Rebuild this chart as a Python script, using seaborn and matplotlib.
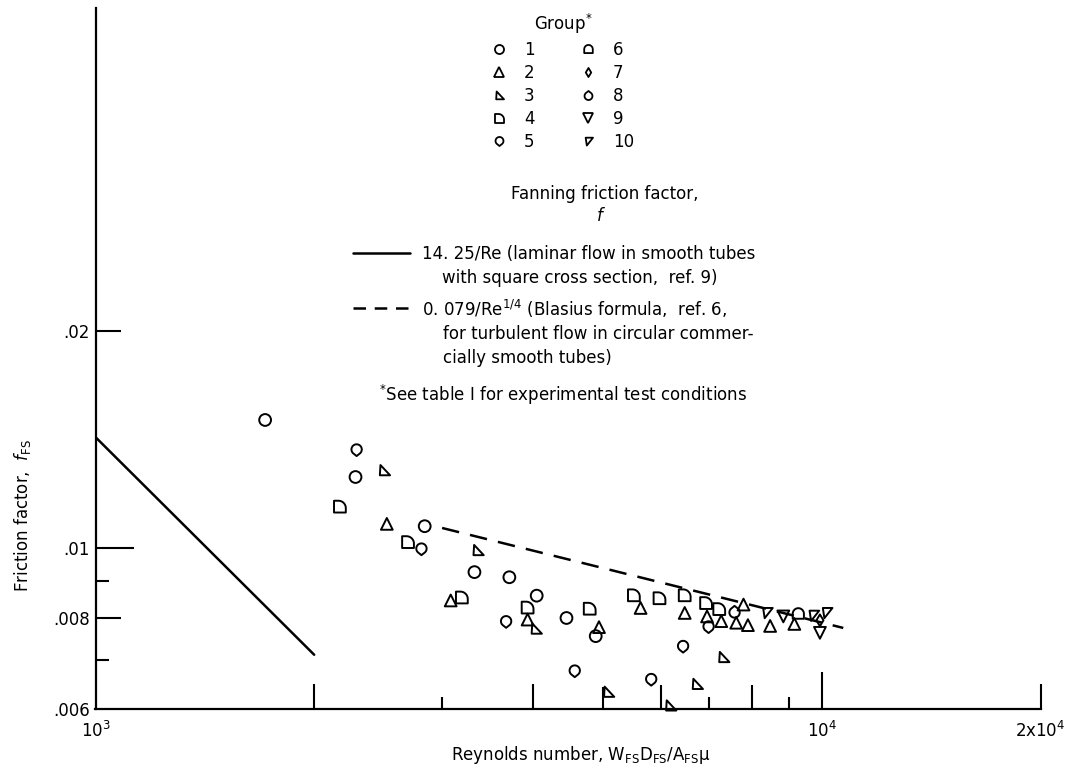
import numpy as np
import pandas as pd
import matplotlib
matplotlib.use("Agg")
import matplotlib.pyplot as plt
import seaborn as sns
from matplotlib.path import Path
from matplotlib.lines import Line2D
from matplotlib.ticker import NullLocator
from matplotlib import font_manager as fm

# ---------------- data ----------------
groups = ["1", "2", "3", "4", "5", "6", "7", "8", "9", "10"]

g1_re = [1712, 2280, 2839, 3324, 3713, 4049, 4450, 4882]
g1_f = [0.01505, 0.01255, 0.01073, 0.00927, 0.00912, 0.00860, 0.00801, 0.00756]
g2_re = [2518, 3083, 3934, 4933, 5628, 6473, 6948, 7268, 7621, 7799, 7909, 8486, 9163]
g2_f = [0.01081, 0.00847, 0.00797, 0.00778, 0.00827, 0.00814, 0.00805, 0.00793,
        0.00789, 0.00836, 0.00783, 0.00781, 0.00786]
g3_re = [2497, 3360, 4040, 5082, 6187, 6732, 7321]
g3_f = [0.01282, 0.00994, 0.00774, 0.00633, 0.00606, 0.00649, 0.00707]
g4_re = [2170, 2693, 3194, 3934, 4790, 5510, 5976, 6473, 6927, 7222]
g4_f = [0.01142, 0.01020, 0.00855, 0.00828, 0.00825, 0.00861, 0.00853, 0.00861,
        0.00840, 0.00824]
g5_re = [2288, 2810, 3675, 4568, 5821, 6440, 6982]
g5_f = [0.01367, 0.00997, 0.00791, 0.00676, 0.00658, 0.00731, 0.00778]
g6_re = [9279]
g6_f = [0.00811]
g7_re = [9937]
g7_f = [0.00795]
g8_re = [7581]
g8_f = [0.00817]
g9_re = [8848, 9937]
g9_f = [0.00805, 0.00764]
g10_re = [8398, 9730, 10148]
g10_f = [0.00814, 0.00807, 0.00814]

laminar_re = [1000, 2000]
laminar_f = [0.01425, 0.007125]
blasius_re = [3000, 10700]
blasius_f = [0.01067, 0.00776]

x_ticks = [1000, 2000, 3000, 4000, 5000, 6000, 7000, 8000, 9000, 10000, 20000]
x_ticklabels = ["10$^{3}$", "", "", "", "", "", "", "", "", "10$^{4}$", "2x10$^{4}$"]
y_ticks = [0.006, 0.007, 0.008, 0.009, 0.01, 0.02]
y_ticklabels = [".006", "", ".008", "", ".01", ".02"]

# ---------------- styling ----------------
sns.set_theme(style="white")
names = {f.name for f in fm.fontManager.ttflist}
if "Liberation Sans Narrow" in names:
    main_font = "Liberation Sans Narrow"
    fs = 14
else:
    main_font = "DejaVu Sans"
    fs = 12
plt.rcParams["font.family"] = [main_font, "DejaVu Sans"]
plt.rcParams["mathtext.fontset"] = "custom"
plt.rcParams["mathtext.rm"] = main_font
plt.rcParams["mathtext.it"] = main_font + ":italic"
plt.rcParams["mathtext.sf"] = main_font
plt.rcParams["text.color"] = "black"
plt.rcParams["axes.labelcolor"] = "black"
plt.rcParams["xtick.color"] = "black"
plt.rcParams["ytick.color"] = "black"


def arc(cx, cy, r, a0, a1, n=20):
    t = np.radians(np.linspace(a0, a1, n))
    return list(zip(cx + r * np.cos(t), cy + r * np.sin(t)))


def closed(verts):
    verts = list(verts) + [verts[0]]
    codes = [Path.MOVETO] + [Path.LINETO] * (len(verts) - 2) + [Path.CLOSEPOLY]
    return Path(verts, codes)


m_flag_tri = closed([(-0.7, -0.8), (0.95, -0.8), (-0.6, 0.85)])
m_d_shape = closed([(-0.8, -0.8), (-0.8, 0.8)] + arc(-0.2, -0.2, 1.0, 90, 0) + [(0.8, -0.8)])
m_pin_down = closed(arc(0, 0.12, 0.88, -45, 225) + [(0, -1.0)])
m_dome = closed([(-0.9, -0.75)] + arc(0, 0.05, 0.9, 180, 0) + [(0.9, -0.75)])
m_diamond = closed([(0, 1.0), (0.6, 0), (0, -1.0), (-0.6, 0)])
m_pin_up = closed(arc(0, -0.12, 0.88, 135, 405) + [(0, 1.0)])
m_flag_vtri = closed([(-0.6, 0.8), (0.95, 0.8), (-0.35, -0.85)])

marker_map = {
    "1": "o", "2": "^", "3": m_flag_tri, "4": m_d_shape, "5": m_pin_down,
    "6": m_dome, "7": m_diamond, "8": m_pin_up, "9": "v", "10": m_flag_vtri,
}

all_re = [g1_re, g2_re, g3_re, g4_re, g5_re, g6_re, g7_re, g8_re, g9_re, g10_re]
all_f = [g1_f, g2_f, g3_f, g4_f, g5_f, g6_f, g7_f, g8_f, g9_f, g10_f]
df = pd.concat(
    [pd.DataFrame({"re": r, "f": f, "group": g}) for g, r, f in zip(groups, all_re, all_f)],
    ignore_index=True,
)

W, H = 1078, 776
fig = plt.figure(figsize=(W / 100, H / 100), dpi=100)
ax = fig.add_axes([95.5 / W, 1 - 708.7 / H, (1040.6 - 95.5) / W, (708.7 - 8) / H])
ax.set_facecolor("white")

sns.lineplot(x=laminar_re, y=laminar_f, color="black", lw=1.8, ax=ax, estimator=None)
sns.lineplot(x=blasius_re, y=blasius_f, color="black", lw=1.8, ax=ax, estimator=None,
             linestyle=(0, (7, 4.5)))

sns.scatterplot(data=df, x="re", y="f", style="group", style_order=groups,
                markers=marker_map, s=72, legend=False, ax=ax, clip_on=False, zorder=3)
coll = ax.collections[-1]
coll.set_facecolor("none")
coll.set_edgecolor("black")
coll.set_linewidth(1.4)

ax.set_xscale("log")
ax.set_yscale("log")
ax.set_xlim(1000, 20000)
ax.set_ylim(0.006, 0.0559)

for s in ["top", "right"]:
    ax.spines[s].set_visible(False)
for s in ["left", "bottom"]:
    ax.spines[s].set_color("black")
    ax.spines[s].set_linewidth(1.6)

ax.set_xticks(x_ticks, labels=x_ticklabels)
ax.set_yticks(y_ticks, labels=y_ticklabels)
ax.xaxis.set_minor_locator(NullLocator())
ax.yaxis.set_minor_locator(NullLocator())
ax.tick_params(axis="x", direction="in", width=1.5, color="black", labelsize=fs, pad=9,
               bottom=True, labelcolor="black")
ax.tick_params(axis="y", direction="in", width=1.5, color="black", labelsize=fs, pad=4,
               left=True, labelcolor="black")
x_len = [0, 18, 9, 18, 16, 17, 9, 17, 9, 27, 18]
y_len = [0, 9, 18, 9, 27, 18]
for t, L in zip(ax.xaxis.get_major_ticks(), x_len):
    t.tick1line.set_markersize(L)
for t, L in zip(ax.yaxis.get_major_ticks(), y_len):
    t.tick1line.set_markersize(L)

ax.set_xlabel("Reynolds number, W$_{\\mathregular{FS}}$D$_{\\mathregular{FS}}$/A$_{\\mathregular{FS}}$\u03bc",
              fontsize=fs, color="black")
ax.set_ylabel("Friction factor,  $\\mathit{f}_{\\mathregular{FS}}$", fontsize=fs, color="black")
ax.xaxis.set_label_coords(0.513, -0.05)
ax.yaxis.set_label_coords(-0.066, 0.276)

# ---------------- group legend ----------------
handles = [Line2D([], [], marker=marker_map[g], linestyle="none", markerfacecolor="none",
                  markeredgecolor="black", markeredgewidth=1.3, markersize=6.5) for g in groups]
leg = fig.legend(handles, groups, ncol=2, loc="upper center",
                 bbox_to_anchor=(563 / W, 1 - 12 / H), frameon=False,
                 title="Group$^{*}$", fontsize=fs, title_fontsize=fs,
                 handlelength=0.8, handletextpad=1.1, columnspacing=2.8,
                 labelspacing=0.3, borderpad=0, borderaxespad=0, labelcolor="black")
leg.get_title().set_color("black")


def fx(x):
    return x / W


def fy(y):
    return 1 - y / H


txt = dict(fontsize=fs, color="black", va="baseline")
fig.text(fx(605), fy(199), "Fanning friction factor,", ha="center", **txt)
fig.text(fx(601), fy(221), "$\\mathit{f}$", ha="center", **txt)
fig.add_artist(Line2D([fx(353), fx(410)], [fy(253), fy(253)], color="black", lw=1.8))
fig.text(fx(422), fy(259), "14. 25/Re (laminar flow in smooth tubes", ha="left", **txt)
fig.text(fx(442), fy(283), "with square cross section,  ref. 9)", ha="left", **txt)
fig.add_artist(Line2D([fx(353), fx(412)], [fy(308), fy(308)], color="black", lw=1.8,
                      linestyle=(0, (5, 3.5))))
fig.text(fx(422), fy(316), "0. 079/Re$^{1/4}$ (Blasius formula,  ref. 6,", ha="left", **txt)
fig.text(fx(443), fy(339), "for turbulent flow in circular commer-", ha="left", **txt)
fig.text(fx(443), fy(363), "cially smooth tubes)", ha="left", **txt)
fig.text(fx(563), fy(401), "$^{*}$See table I for experimental test conditions", ha="center", **txt)

fig.savefig("out.png", dpi=100, facecolor="white")
